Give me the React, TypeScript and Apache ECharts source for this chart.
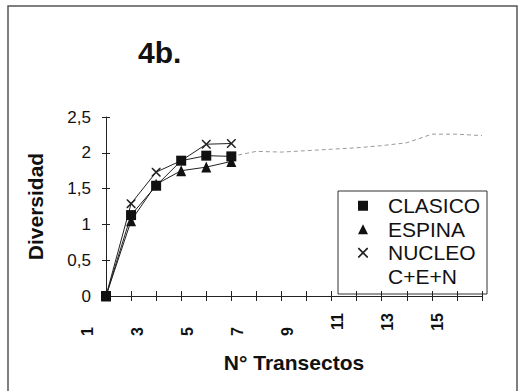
import React, { useEffect, useRef } from "react";
import * as echarts from "echarts";

const categories = ["1", "2", "3", "4", "5", "6", "7", "8", "9", "10", "11", "12", "13", "14", "15", "16"];
const clasico = [0, 1.13, 1.54, 1.89, 1.96, 1.95];
const espina = [0, 1.05, 1.56, 1.75, 1.8, 1.88];
const nucleo = [0, 1.29, 1.73, 1.89, 2.12, 2.13];
const cen = [null, null, null, null, null, 1.95, 2.02, 2.01, 2.03, 2.05, 2.07, 2.1, 2.14, 2.26, 2.26, 2.24];
const seriesNames = ["CLASICO", "ESPINA", "NUCLEO", "C+E+N"];

const FONT = "'Liberation Sans', Arial, sans-serif";
const SQUARE = "path://M0,0H10V10H0Z";
const TRI = "path://M5,0L10,10H0Z";
const XMARK = "path://M0,0L1.2,0L5,3.8L8.8,0L10,0L10,1.2L6.2,5L10,8.8L10,10L8.8,10L5,6.2L1.2,10L0,10L0,8.8L3.8,5L0,1.2Z";

export default function App() {
  const ref = useRef<HTMLDivElement>(null);
  useEffect(() => {
    document.body.style.margin = "0";
    const chart = echarts.init(ref.current!, null, { renderer: "svg" });
    const gridRect = { left: 106, right: 41, top: 117, bottom: 95 };
    const option: any = {
      animation: false,
      backgroundColor: "#fff",
      title: {
        text: "4b.",
        left: 138,
        top: 37,
        padding: 0,
        textStyle: { fontSize: 30, fontWeight: "bold", color: "#111", fontFamily: FONT },
      },
      grid: [
        { ...gridRect },
        { ...gridRect },
      ],
      legend: {
        orient: "vertical",
        left: 343,
        top: 194,
        padding: 0,
        itemWidth: 40,
        itemHeight: 10,
        itemGap: 0,
        symbolKeepAspect: true,
        textStyle: { fontSize: 21, fontFamily: FONT, color: "#111", lineHeight: 23.5 },
        data: [
          { name: seriesNames[0], icon: SQUARE },
          { name: seriesNames[1], icon: TRI },
          { name: seriesNames[2], icon: XMARK },
          { name: seriesNames[3], icon: "none" },
        ],
      },
      graphic: [
        {
          type: "rect",
          shape: { x: 8, y: 6, width: 509, height: 420 },
          style: { fill: "none", stroke: "#555", lineWidth: 1.5 },
          silent: true,
        },
        {
          type: "rect",
          shape: { x: 338, y: 191, width: 149, height: 103 },
          style: { fill: "none", stroke: "#333", lineWidth: 1 },
          silent: true,
        },
      ],
      xAxis: [
        {
          type: "category",
          gridIndex: 0,
          data: categories,
          boundaryGap: false,
          axisLine: { lineStyle: { color: "#222", width: 1 } },
          axisTick: { show: true, interval: 0, length: 5, lineStyle: { color: "#222" } },
          axisLabel: {
            interval: 1,
            rotate: 90,
            margin: 17,
            color: "#111",
            fontSize: 16,
            fontWeight: "bold",
            fontFamily: FONT,
            padding: [0, 0, 38, 0],
            formatter: (v: string) => (v.length === 1 ? `{s|${v}}` : `{d|${v}}`),
            rich: {
              s: { padding: [0, 14, 0, 0], fontSize: 16, fontWeight: "bold", fontFamily: FONT, color: "#111" },
              d: { fontSize: 16, fontWeight: "bold", fontFamily: FONT, color: "#111" },
            },
          },
          splitLine: { show: false },
          name: "N° Transectos",
          nameLocation: "middle",
          nameGap: 56,
          nameTextStyle: { fontSize: 21, fontWeight: "bold", color: "#111", fontFamily: FONT },
        },
        {
          type: "category",
          gridIndex: 1,
          data: categories,
          boundaryGap: false,
          axisLine: { show: false },
          axisTick: { show: true, inside: true, interval: 0, length: 5, lineStyle: { color: "#222" } },
          axisLabel: { show: false },
          splitLine: { show: false },
        },
      ],
      yAxis: [
        {
          type: "value",
          gridIndex: 0,
          min: 0,
          max: 2.5,
          interval: 0.5,
          axisLine: { show: true, lineStyle: { color: "#222", width: 1 } },
          axisTick: { show: true, length: 4, lineStyle: { color: "#222" } },
          axisLabel: {
            margin: 15,
            fontSize: 17,
            color: "#111",
            fontFamily: FONT,
            formatter: (v: number) => String(v).replace(".", ","),
          },
          splitLine: { show: false },
          name: "Diversidad",
          nameLocation: "middle",
          nameRotate: 90,
          nameGap: 60,
          nameTextStyle: { fontSize: 21, fontWeight: "bold", color: "#111", fontFamily: FONT },
        },
        {
          type: "value",
          gridIndex: 1,
          min: 0,
          max: 2.5,
          interval: 0.5,
          axisLine: { show: false },
          axisTick: { show: true, inside: true, length: 4, lineStyle: { color: "#222" } },
          axisLabel: { show: false },
          splitLine: { show: false },
        },
      ],
      series: [
        {
          name: seriesNames[3],
          type: "line",
          data: cen,
          symbol: "none",
          lineStyle: { color: "#9a9a9a", width: 1, type: [4, 3] },
          itemStyle: { color: "#9a9a9a" },
          connectNulls: false,
          z: 1,
        },
        {
          name: seriesNames[0],
          type: "line",
          data: clasico,
          symbol: "rect",
          symbolSize: 10,
          lineStyle: { color: "#222", width: 1 },
          itemStyle: { color: "#111" },
          z: 3,
        },
        {
          name: seriesNames[1],
          type: "line",
          data: espina,
          symbol: "triangle",
          symbolSize: [10, 11],
          lineStyle: { color: "#222", width: 1 },
          itemStyle: { color: "#111" },
          z: 2,
        },
        {
          name: seriesNames[2],
          type: "line",
          data: nucleo,
          symbol: XMARK,
          symbolSize: 9,
          lineStyle: { color: "#222", width: 1 },
          itemStyle: { color: "#222" },
          z: 2,
        },
      ],
    };
    chart.setOption(option);
    return () => chart.dispose();
  }, []);
  return <div ref={ref} style={{ width: 523, height: 391 }} />;
}
